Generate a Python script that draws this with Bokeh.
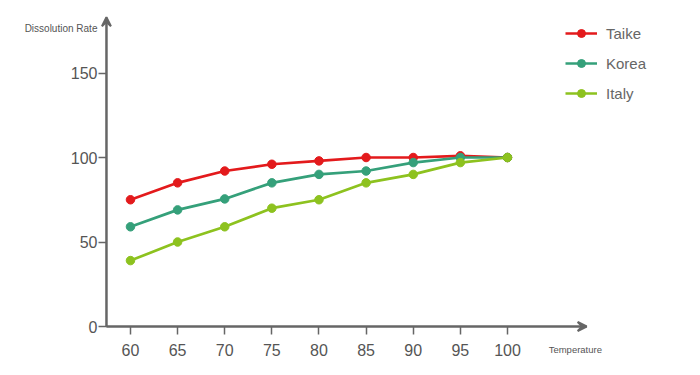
from bokeh.plotting import figure
from bokeh.models import Range1d, Arrow, VeeHead, Label, Legend, LegendItem, FixedTicker, LinearAxis
from bokeh.embed import file_html
from bokeh.resources import INLINE

temperature = [60, 65, 70, 75, 80, 85, 90, 95, 100]
taike = [75, 85, 92, 96, 98, 100, 100, 101, 100]
korea = [59, 69, 75.5, 85, 90, 92, 97, 100, 100]
italy = [39, 50, 59, 70, 75, 85, 90, 97, 100]
y_ticks = [0, 50, 100, 150]
series_names = ["Taike", "Korea", "Italy"]
series_colors = ["#e31a1c", "#35a07a", "#8dc21f"]

FONT = "Liberation Sans"
AX = "#666666"

# visible extent of the plotting area (axis bounds)
ax_x0, ax_x1 = 57.45, 108.4
ax_y0, ax_y1 = 0, 183

p = figure(width=692, height=367, output_backend="svg", toolbar_location=None,
           x_range=Range1d(46.21, 119.63), y_range=Range1d(-24.26, 192.9),
           x_axis_type=None, y_axis_type=None,
           min_border_left=0, min_border_right=0, min_border_top=0, min_border_bottom=0)
p.outline_line_color = None
p.grid.visible = False

xaxis = LinearAxis(fixed_location=ax_y0, bounds=(ax_x0, ax_x1), ticker=FixedTicker(ticks=temperature))
yaxis = LinearAxis(fixed_location=ax_x0, bounds=(ax_y0, ax_y1), ticker=FixedTicker(ticks=y_ticks))
for ax in (xaxis, yaxis):
    ax.axis_line_color = AX
    ax.axis_line_width = 2
    ax.major_tick_line_color = AX
    ax.major_tick_line_width = 1.5
    ax.major_tick_in = 0
    ax.major_tick_out = 8
    ax.minor_tick_line_color = None
    ax.major_label_text_color = "#555555"
    ax.major_label_text_font = FONT
    ax.major_label_text_font_size = "16px"
xaxis.major_label_standoff = 9
yaxis.major_label_standoff = 1
p.add_layout(xaxis, "below")
p.add_layout(yaxis, "left")

# arrow heads on axes
p.add_layout(Arrow(end=VeeHead(size=9, line_color=AX, fill_color=AX, line_width=2),
                   x_start=ax_x0, y_start=ax_y0, x_end=ax_x1, y_end=ax_y0, line_color=AX, line_width=2))
p.add_layout(Arrow(end=VeeHead(size=9, line_color=AX, fill_color=AX, line_width=2),
                   x_start=ax_x0, y_start=ax_y0, x_end=ax_x0, y_end=ax_y1, line_color=AX, line_width=2))

p.add_layout(Label(x=ax_x0, y=ax_y1, x_offset=-9, y_offset=-11, text="Dissolution Rate",
                   text_align="right", text_baseline="middle", text_font=FONT,
                   text_font_size="10px", text_color="#555555"))
p.add_layout(Label(x=ax_x1, y=ax_y0, x_offset=-38, y_offset=-23, text="Temperature",
                   text_align="left", text_baseline="middle", text_font=FONT,
                   text_font_size="9.5px", text_color="#555555"))

items = []
for name, vals, col in zip(series_names, [taike, korea, italy], series_colors):
    l = p.line(temperature, vals, line_color=col, line_width=2.7)
    c = p.scatter(temperature, vals, size=8.5, fill_color=col, line_color=col)
    items.append(LegendItem(label=name, renderers=[l, c]))

legend = Legend(items=items, location=(565, 264), background_fill_alpha=0,
                border_line_color=None, glyph_width=32, glyph_height=20, padding=0,
                spacing=10, label_standoff=9, label_text_font=FONT,
                label_text_font_size="15px", label_text_color="#666666")
p.add_layout(legend, "center")

open("out.html", "w").write(file_html(p, INLINE))
